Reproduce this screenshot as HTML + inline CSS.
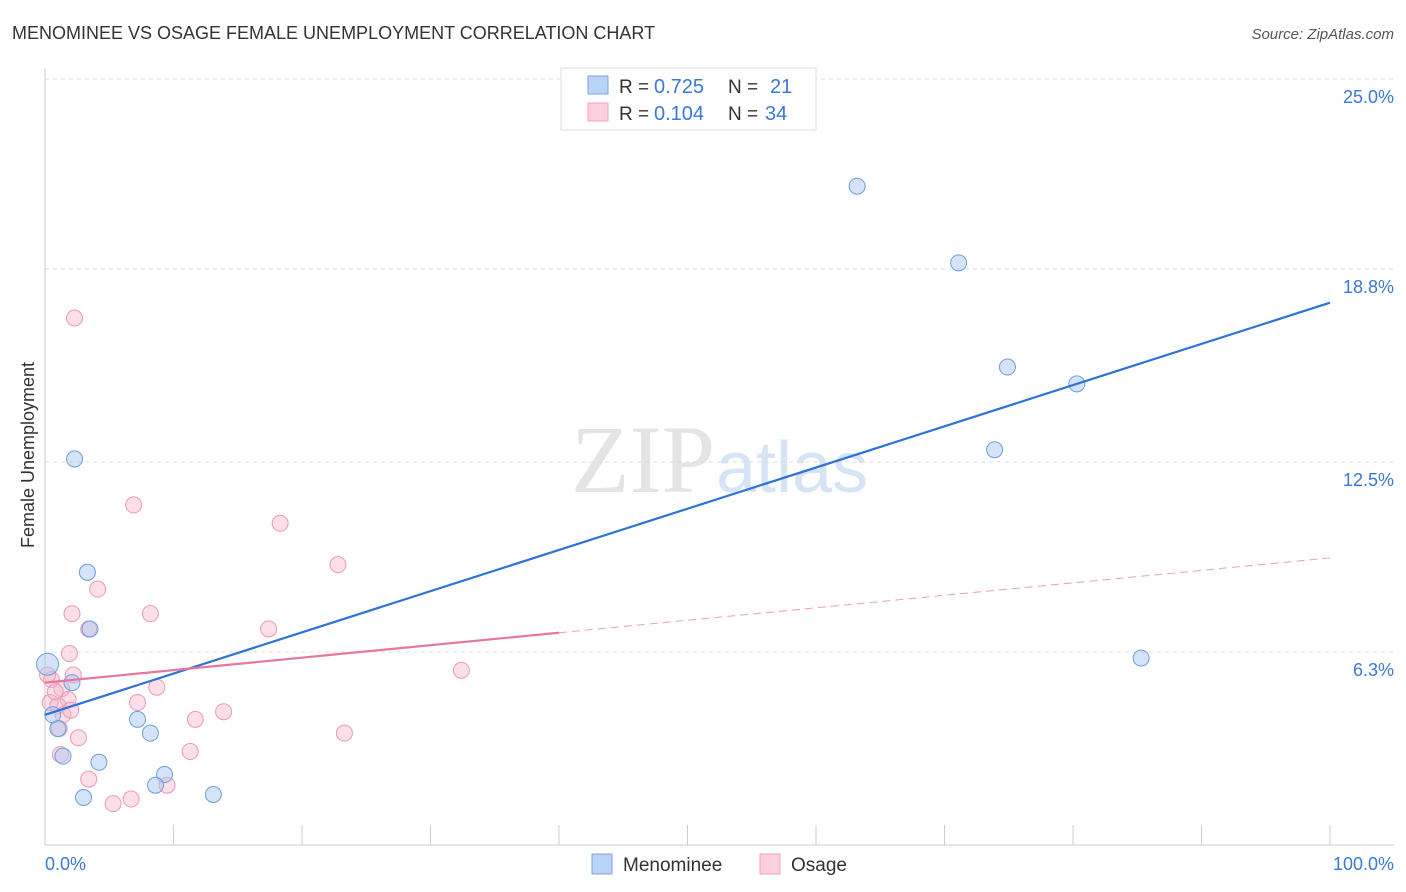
<!DOCTYPE html>
<html><head><meta charset="utf-8"><style>
body{margin:0;background:#fff;font-family:"Liberation Sans",sans-serif}
svg{display:block}
</style></head><body>
<svg width="1406" height="892">
<text x="12" y="39" font-size="18" fill="#333">MENOMINEE VS OSAGE FEMALE UNEMPLOYMENT CORRELATION CHART</text>
<text x="1394" y="39" font-size="15" fill="#555" font-style="italic" text-anchor="end">Source: ZipAtlas.com</text>
<text x="715" y="492" font-size="96" fill="#e4e4e4" font-family="Liberation Serif" text-anchor="end">ZIP</text>
<text x="716" y="492" font-size="72" fill="#d6e4f5">atlas</text>
<g id="grid"></g>
<g id="axes"></g>
<g id="marks"></g>
<text transform="translate(34,455) rotate(-90)" font-size="18" fill="#333" text-anchor="middle">Female Unemployment</text>
<text x="45" y="870" font-size="18" fill="#3b78d8">0.0%</text>
<text x="1394" y="870" font-size="18" fill="#3b78d8" text-anchor="end">100.0%</text>
<g>
<rect x="561" y="68" width="255" height="62" fill="#fff" stroke="#ddd"/>
<rect x="588" y="76" width="20" height="18" fill="#b9d3f5" stroke="#7aa6e0"/>
<rect x="588" y="103" width="20" height="18" fill="#fbcfdc" stroke="#eea3ba"/>
<text x="619" y="93" font-size="19" fill="#333">R =</text>
<text x="654" y="93" font-size="20" fill="#3b78d8">0.725</text>
<text x="728" y="93" font-size="19" fill="#333">N =</text>
<text x="770" y="93" font-size="20" fill="#3b78d8">21</text>
<text x="619" y="120" font-size="19" fill="#333">R =</text>
<text x="654" y="120" font-size="20" fill="#3b78d8">0.104</text>
<text x="728" y="120" font-size="19" fill="#333">N =</text>
<text x="765" y="120" font-size="20" fill="#3b78d8">34</text>
</g>
<g>
<rect x="592" y="854" width="20" height="20" fill="#b9d3f5" stroke="#7aa6e0"/>
<text x="623" y="871" font-size="19" fill="#333">Menominee</text>
<rect x="760" y="854" width="20" height="20" fill="#fbcfdc" stroke="#eea3ba"/>
<text x="791" y="871" font-size="19" fill="#333">Osage</text>
</g>
</svg>
<script>
const yTicks=[6.3,12.5,18.8,25.0];
const yTickLabels=["6.3%","12.5%","18.8%","25.0%"];
const blueX=[63.2,71.1,74.9,80.3,73.9,85.3,2.3,3.3,3.5,0.2,2.1,0.6,1.0,1.4,4.2,7.2,8.2,9.3,8.6,3.0,13.1];
const blueY=[21.5,19.0,15.6,15.05,12.9,6.1,12.6,8.9,7.05,5.9,5.3,4.25,3.8,2.9,2.7,4.1,3.65,2.3,1.95,1.55,1.65];
const pinkX=[2.3,6.9,18.3,4.1,2.1,8.2,22.8,3.4,17.4,1.9,32.4,2.2,0.5,1.3,8.7,1.8,0.4,1.0,7.2,1.4,13.9,11.7,1.1,2.6,23.3,1.2,11.3,3.4,9.5,6.7,5.3,0.2,0.8,2.0];
const pinkY=[17.2,11.1,10.5,8.35,7.55,7.55,9.15,7.05,7.05,6.25,5.7,5.55,5.4,5.1,5.15,4.75,4.65,4.55,4.65,4.25,4.35,4.1,3.8,3.5,3.65,2.95,3.05,2.15,1.95,1.5,1.35,5.55,5.0,4.4];
const blueTrend=[4.25,17.7];
const pinkTrend=[5.3,9.37];
const pinkSolidEnd=40;
const NS="http://www.w3.org/2000/svg";
const X=v=>45+v*12.85, Y=v=>845-v*30.64;
function mk(tag,attrs,parent){const e=document.createElementNS(NS,tag);for(const k in attrs)e.setAttribute(k,attrs[k]);parent.appendChild(e);return e;}
const grid=document.getElementById('grid'),axes=document.getElementById('axes'),marks=document.getElementById('marks');
yTicks.forEach((t,i)=>{
 const l=mk('line',{x1:45,x2:1394,y1:Y(t),y2:Y(t),stroke:'#ddd','stroke-dasharray':'4,4'},grid);
 
 
 const tx=mk('text',{x:1394,y:Y(t)+24,'font-size':18,fill:'#3b78d8','text-anchor':'end'},grid);
 tx.textContent=yTickLabels[i];
 
 
});
const xa=mk('line',{x1:45,x2:1394,y1:845,y2:845,stroke:'#ccc'},axes);


const ya=mk('line',{x1:45,x2:45,y1:68,y2:845,stroke:'#ccc'},axes);


for(let i=0;i<=10;i++){const t=mk('line',{x1:X(i*10),x2:X(i*10),y1:825,y2:845,stroke:'#ccc'},axes);
 
 }
pinkX.forEach((x,i)=>{const c=mk('circle',{cx:X(x),cy:Y(pinkY[i]),r:8,fill:'rgba(248,185,205,0.45)',stroke:'#eb9ab4','stroke-width':1},marks);
 
 });
blueX.forEach((x,i)=>{const c=mk('circle',{cx:X(x),cy:Y(blueY[i]),r:i==9?11:8,fill:'rgba(170,200,242,0.5)',stroke:'#6f9edb','stroke-width':1},marks);
 
 });
const bl=mk('line',{x1:X(0),y1:Y(blueTrend[0]),x2:X(100),y2:Y(blueTrend[1]),stroke:'#2e72d8','stroke-width':2.2},marks);


const pm=pinkTrend[0]+(pinkTrend[1]-pinkTrend[0])*pinkSolidEnd/100;
const pl=mk('line',{x1:X(0),y1:Y(pinkTrend[0]),x2:X(pinkSolidEnd),y2:Y(pm),stroke:'#e8769c','stroke-width':2.2},marks);


const pd=mk('line',{x1:X(pinkSolidEnd),y1:Y(pm),x2:X(100),y2:Y(pinkTrend[1]),stroke:'#e8a0b8','stroke-width':1,'stroke-dasharray':'8,5'},marks);


</script>
</body></html>
